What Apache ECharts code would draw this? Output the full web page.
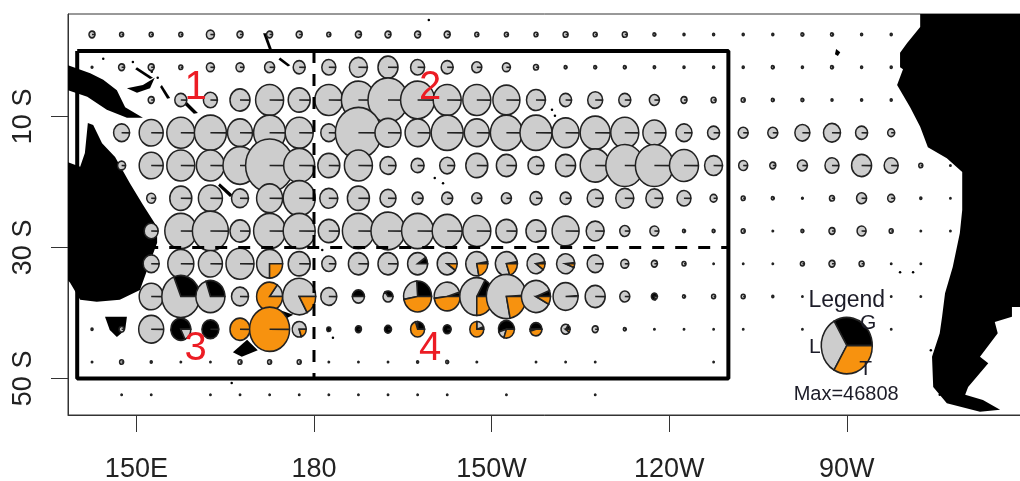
<!DOCTYPE html>
<html><head><meta charset="utf-8">
<style>html,body{margin:0;padding:0;background:#fff}#c{width:1020px;height:481px}</style>
<script src="https://cdn.jsdelivr.net/npm/echarts@6/dist/echarts.min.js"></script>
</head><body><div id="c"></div>
<script>
// ---- data ----
const lons=[142.5,147.5,152.5,157.5,162.5,167.5,172.5,177.5,182.5,187.5,192.5,197.5,202.5,207.5,212.5,217.5,222.5,227.5,232.5,237.5,242.5,247.5,252.5,257.5,262.5,267.5,272.5,277.5,282.5,287.5];
const lats=[2.5,-2.5,-7.5,-12.5,-17.5,-22.5,-27.5,-32.5,-37.5,-42.5,-47.5,-52.5];
const _=null;
const rowN2=[650,290,290,290,1150,650,650,650,290,650,650,650,650,290,290,290,450,290,450,160,72,72,72,72,160,160,72,72,_,_];
const rowS2=[50,650,650,290,1150,1150,1800,2600,3530,5830,7200,3530,2600,1800,1150,450,160,160,160,100,72,72,72,160,72,160,72,72,_,_];
const rowS7=[_,_,650,2600,3530,7200,14110,8710,14110,20810,28800,20810,14110,14110,13120,6500,2600,4050,2600,1800,650,450,290,160,160,72,72,72,_,_];
const rowS12=[_,4610,10370,14110,18430,11250,18430,14110,4610,38090,12170,11250,18430,11250,18430,18430,13120,16200,14110,9520,4610,2600,1800,1800,4050,5200,2600,880,_,_];
const rowS17=[_,1150,10370,14110,14110,20810,41470,17300,8710,14110,4610,3040,4050,8710,7200,4610,7200,16200,25990,25990,15140,5830,1460,650,1800,3530,7200,3530,290,35];
const rowS22=[_,_,1460,8710,10370,5200,12170,18430,5830,8710,4610,2180,2180,1800,1800,2600,2180,4610,5830,5200,3530,880,290,160,50,450,1800,880,72,30];
const rowS27=[_,_,3530,18430,23330,7200,18430,18430,7940,18430,20810,18430,16200,14110,7940,7200,13120,5830,1800,1460,160,160,290,35,160,650,1460,290,30,30];
const rowS32=[_,_,4610,12170,10370,14110,12170,8710,3530,7200,7200,7200,7200,8710,8710,5830,5830,4610,1150,650,290,30,30,30,290,650,450,30,30,_];
const rowS37=[_,_,10370,25990,15140,5200,12170,19600,4610,2600,1800,14110,12170,20810,28800,15140,11250,7200,1800,650,160,290,290,72,30,_,_,30,30,_];
const rowS42=[72,450,11250,7200,5200,7200,28800,3530,290,650,880,3530,1150,3530,4610,2600,1460,650,160,35,30,30,30,_,30,_,_,30,_,_];
const rowS47=[35,290,72,30,30,290,290,290,30,30,30,72,160,35,_,30,30,30,_,_,_,30,_,_,_,_,_,_,_,_];
const rowS52=[_,30,30,_,30,30,30,30,30,30,30,30,30,_,30,_,_,30,_,_,_,_,_,_,_,_,_,_,_,_];
const rows=[rowN2,rowS2,rowS7,rowS12,rowS17,rowS22,rowS27,rowS32,rowS37,rowS42,rowS47,rowS52];

// cells that are not 100% L: lon, lat, and G / L / T shares
const mixLon=[172.5,197.5,202.5,207.5,212.5,217.5,222.5, 157.5,162.5,172.5,177.5,187.5,192.5,197.5,202.5,207.5,212.5,217.5,222.5,237.5, 157.5,162.5,167.5,172.5,177.5,182.5,187.5,192.5,197.5,202.5,207.5,212.5,217.5,222.5];
const mixLat=[-32.5,-32.5,-32.5,-32.5,-32.5,-32.5,-32.5, -37.5,-37.5,-37.5,-37.5,-37.5,-37.5,-37.5,-37.5,-37.5,-37.5,-37.5,-37.5,-37.5, -42.5,-42.5,-42.5,-42.5,-42.5,-42.5,-42.5,-42.5,-42.5,-42.5,-42.5,-42.5,-42.5,-42.5];
const mixG=[0,.1,0,.03,.03,.03,.02, .31,.3,0,0,.5,.35,.26,.05,.17,.01,.06,.01,.8, .82,1,0,0,0,1,1,1,.25,1,.05,.55,.5,.15];
const mixL=[.75,.9,.9,.75,.77,.87,.92, .69,.7,.15,.83,.5,.65,.27,.47,.58,.77,.86,.99,.2, .18,0,0,0,.8,0,0,0,.05,0,.2,.15,.05,.75];
const mixT=[.25,0,.1,.22,.2,.1,.06, 0,0,.85,.17,0,0,.47,.48,.25,.22,.08,0,0, 0,0,1,1,.2,0,0,0,.7,0,.75,.3,.45,.1];

const legendLon=270, legendLat=-45, maxCatch=46808;
const xTicks=[150,180,210,240,270];
const xTickLabels=['150E','180','150W','120W','90W'];
const yTicks=[-10,-30,-50];
const yTickLabels=['10 S','30 S','50 S'];

const boxLon=[140,250,250,140,140];
const boxLat=[0,0,-50,-50,0];
const divLat=[-30,-30], divLatLon=[140,250];
const divLon=[180,180], divLonLat=[0,-50];

const textLon=[160,199.6,160,199.6,270,273.6,264.6,273.2,269.9];
const textLat=[-5.7,-5.7,-45.5,-45.5,-38.2,-41.5,-45.2,-48.6,-52.4];
const textStr=['1','2','3','4','Legend','G','L','T','Max=46808'];

const southAmerica=[[282.4,5.63],[282.4,3.65],[280.2,1.2],[279,-.3],[279,-2.5],[279.5,-2.8],[278.5,-5.2],[280.7,-8.6],[282.4,-11.6],[283.7,-14.7],[286.9,-16.4],[289.5,-18.5],[289.5,-24.3],[289.1,-27.8],[287.9,-33],[286.6,-37],[286.1,-40.6],[285.7,-43.1],[284.4,-46.7],[284.6,-51.3],[286.9,-53.8],[292.5,-55.1],[295.9,-54.8],[293,-53.3],[290,-52.5],[290.5,-51.3],[293.9,-47.7],[292.5,-46.7],[295.5,-43.1],[295,-41.4],[297.9,-40.6],[297.9,-39.1],[299.43,-39.1],[299.43,5.63]];
const australia=[[138.45,-17],[140.5,-17.7],[141.3,-15.6],[141.8,-11],[142.7,-11.3],[144.2,-14.1],[146.4,-16.2],[148.9,-20.2],[151.1,-23.5],[153.5,-26.9],[153.5,-29.3],[152,-33],[150.6,-36.5],[147.2,-38],[143.3,-38.3],[140.5,-38],[138.8,-35.4],[138.45,-35]];
const newGuinea=[[138.45,-2.2],[142.2,-3.4],[144.4,-4.4],[146.7,-6],[148.1,-8.6],[151.1,-10.2],[148.4,-10.2],[145,-9],[141.7,-7],[138.45,-6]];
const newBritain=[[148.4,-5.7],[151.1,-5.2],[153.1,-4.1],[152.3,-5.7],[150.1,-6.4]];
const newIreland=[[150.1,-2.5],[152.8,-4.1],[152.3,-4.3],[149.8,-2.8]];
const solomonsA=[[154.3,-5.2],[155.7,-7.2],[155.2,-7.3],[154,-5.5]];
const solomonsB=[[158.2,-7.5],[160.4,-9.5],[159.7,-9.6],[157.9,-8]];
const newCaledonia=[[164.1,-20.2],[166.3,-22],[165.8,-22.3],[163.8,-20.6]];
const tasmania=[[144.7,-40.6],[148.4,-40.6],[148.1,-42.6],[146.7,-43.7],[145.5,-42.6]];
const nzSouth=[[166.3,-46],[168.7,-44.1],[170.5,-45.7],[167.8,-46.7]];
const nzNorth=[[174.3,-39.6],[176.5,-40.3],[174.8,-41.1]];
const galapagos=[[268.2,.3],[268.9,-.2],[268.5,-.8],[268,-.5]];
const gilbertA=[[171.9,2.7],[172.9,.2],[172.4,.2],[171.4,2.7]];
const gilbertB=[[174.3,-1],[176,-2.2],[175.6,-2.4],[174,-1.3]];
const land=[southAmerica,australia,newGuinea,newBritain,newIreland,solomonsA,solomonsB,newCaledonia,tasmania,nzSouth,nzNorth,galapagos,gilbertA,gilbertB];
const isletLon=[220.2,220.7,200.4,201.8,199.4,149.4,144.4,152.6,153.6,279,281.2,183.2,181.4,167.5,166.1,284.9,285.4,284.2,285.7];
const isletLat=[-9,-9.9,-19.4,-20.2,4.7,-1.7,-1.2,-3.2,-4.1,-33.8,-33.8,-43.8,-30.4,-47.7,-50.7,-47.9,-49.5,-45.7,-52.5];

// ---- build ----
const COL={G:'#000000',L:'#cdcdcd',T:'#f7920f'};
const R_MAX=25.5, STRETCH=1.106;
const pies=[];
lats.forEach((lat,j)=>lons.forEach((lon,i)=>{
  const v=rows[j][i]; if(v==null) return;
  let g=0,l=1,t=0;
  for(let k=0;k<mixLon.length;k++) if(mixLon[k]===lon&&mixLat[k]===lat){g=mixG[k];l=mixL[k];t=mixT[k];}
  pies.push([lon,lat,v,g,l,t]);
}));
pies.push([legendLon,legendLat,maxCatch,1/3,1/3,1/3]);

function renderPie(params,api){
  const p=api.coord([api.value(0),api.value(1)]);
  const r=R_MAX*Math.sqrt(api.value(2)/maxCatch);
  const parts=[[api.value(3),COL.G],[api.value(4),COL.L],[api.value(5),COL.T]];
  let a=0; const children=[];
  parts.forEach(([s,c])=>{
    if(s<=0) return;
    const span=Math.min(s*2*Math.PI,2*Math.PI-0.01);
    children.push({type:'sector',shape:{cx:0,cy:0,r0:0,r:r,startAngle:-(a+span),endAngle:-a,clockwise:true},
      style:{fill:c,stroke:'#222',lineWidth:1.5}});
    a+=span;
  });
  return {type:'group',x:p[0],y:p[1],scaleY:STRETCH,children};
}
function renderLand(params,api){
  const poly=land[api.value(0)];
  return {type:'polygon',shape:{points:poly.map(c=>api.coord(c))},style:{fill:'#000'}};
}
const zipp=(a,b)=>a.map((v,i)=>[v,b[i]]);
const chart=echarts.init(document.getElementById('c'),null,{renderer:'canvas'});
const lineStyleAxis={color:'#333',width:1};
chart.setOption({
  animation:false,backgroundColor:'#fff',
  grid:{left:68,top:14,width:953,height:401,show:true,borderColor:'#333',borderWidth:1,backgroundColor:'#fff',outerBoundsMode:'none',containLabel:false},
  xAxis:{type:'value',min:138.446,max:299.43,splitLine:{show:false},axisLine:{show:true,onZero:false,lineStyle:lineStyleAxis},
    axisTick:{show:true,length:17,customValues:xTicks,lineStyle:lineStyleAxis},
    axisLabel:{customValues:xTicks,margin:41,fontFamily:'Liberation Sans',fontSize:27,color:'#222',
      formatter:v=>xTickLabels[xTicks.indexOf(Math.round(v))]||''}},
  yAxis:{type:'value',min:-55.59,max:5.63,splitLine:{show:false},axisLine:{show:true,onZero:false,lineStyle:lineStyleAxis},
    axisTick:{show:true,length:17,customValues:yTicks,lineStyle:lineStyleAxis},
    axisLabel:{customValues:yTicks,rotate:90,margin:31,fontFamily:'Liberation Sans',fontSize:27,color:'#222',
      formatter:v=>yTickLabels[yTicks.indexOf(Math.round(v))]||''}},
  series:[
    {type:'custom',name:'land',coordinateSystem:'cartesian2d',renderItem:renderLand,data:land.map((_,i)=>[i]),encode:{x:-1,y:-1},z:1,silent:true},
    {type:'scatter',name:'islets',data:zipp(isletLon,isletLat),symbolSize:2.5,itemStyle:{color:'#000',opacity:1},z:1,silent:true},
    {type:'custom',name:'catch',coordinateSystem:'cartesian2d',renderItem:renderPie,data:pies,encode:{x:0,y:1},z:2,silent:true},
    {type:'line',name:'box',data:zipp(boxLon,boxLat),symbol:'none',lineStyle:{color:'#000',width:4},z:3,silent:true},
    {type:'line',name:'lat30',data:zipp(divLatLon,divLat),symbol:'none',lineStyle:{color:'#000',width:3,type:[12,11]},z:3,silent:true},
    {type:'line',name:'lon180',data:zipp(divLon,divLonLat),symbol:'none',lineStyle:{color:'#000',width:3,type:[12,11]},z:3,silent:true},
    {type:'scatter',name:'text',symbolSize:1,itemStyle:{opacity:1,color:'rgba(0,0,0,0)'},z:4,silent:true,
      data:textStr.map((s,i)=>{
        const red=i<4;
        return {value:[textLon[i],textLat[i]],label:{show:true,position:'inside',opacity:1,formatter:s,fontFamily:'Liberation Sans',
          fontSize:red?40:(s==='Legend'?23:(s.length>1?20:21)),color:red?'#ec1c24':'#1c1c28'}};
      })}
  ]
});
</script></body></html>
